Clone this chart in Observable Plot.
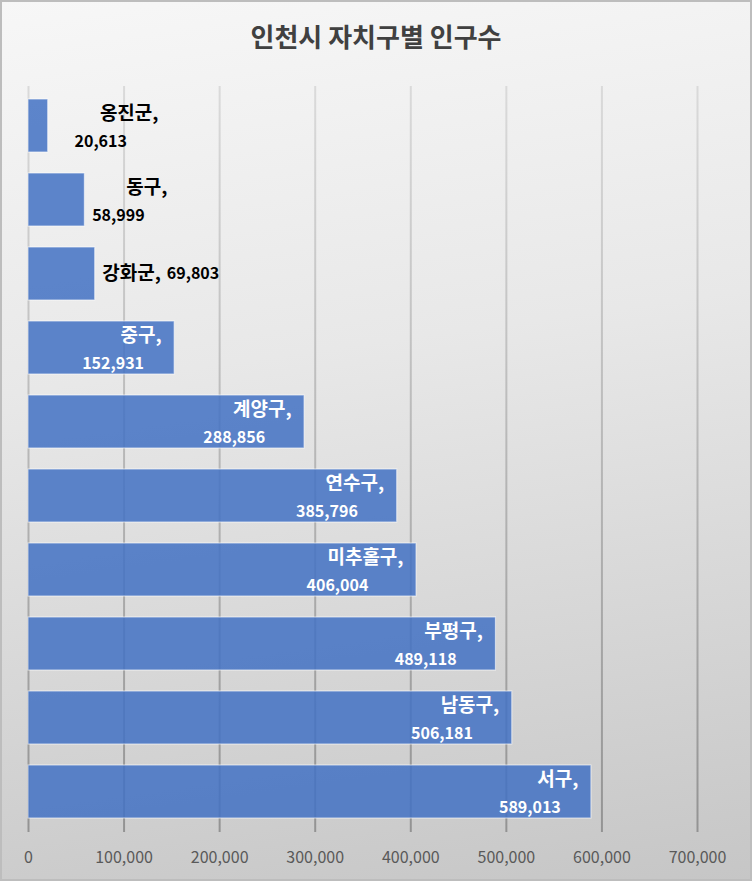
<!DOCTYPE html>
<html>
<head>
<meta charset="utf-8">
<script src="https://cdn.jsdelivr.net/npm/d3@7"></script>
<script src="https://cdn.jsdelivr.net/npm/@observablehq/plot@0.6"></script>
<style>
  html, body { margin: 0; padding: 0; background: #fff; }
  #chart {
    position: relative; width: 752px; height: 881px; overflow: hidden;
    background: linear-gradient(172deg, #f7f7f7 0%, #e8e8e8 40%, #c6c6c6 100%);
    box-shadow: inset 0 0 0 2px #bdbdbd;
    font-family: "Noto Sans CJK KR", "Noto Sans", sans-serif;
  }
  #title {
    position: absolute; left: 0; top: 18px; width: 752px; height: 36px; line-height: 36px;
    text-align: center; font-size: 26px; font-weight: bold; color: #404040;
  }
  #plot { position: absolute; left: 0; top: 60px; }
</style>
</head>
<body>
<div id="chart">
  <div id="title">인천시 자치구별 인구수</div>
  <div id="plot"></div>
</div>
<script>
// ---- data ----
const categories = ["옹진군", "동구", "강화군", "중구", "계양구", "연수구", "미추홀구", "부평구", "남동구", "서구"];
const populations = [20613, 58999, 69803, 152931, 288856, 385796, 406004, 489118, 506181, 589013];
const xTicks = [0, 100000, 200000, 300000, 400000, 500000, 600000, 700000];

const data = categories.map((name, i) => ({name, value: populations[i]}));

// ---- layout ----
const W = 752, H = 821;
const mTop = 26, mBottom = 49, mLeft = 28, mRight = 55;
const fontFamily = '"Noto Sans CJK KR", "Noto Sans", sans-serif';
const nameSize = 19, valueSize = 16;
const nameFont = `bold ${nameSize}px ${fontFamily}`;
const valueFont = `bold ${valueSize}px ${fontFamily}`;
const ctx = document.createElement("canvas").getContext("2d");
const textW = (s, f) => { ctx.font = f; return ctx.measureText(s).width; };
const fmt = d3.format(",");

// label placement styles for bars too short to hold their label
const outsideLabels = {"옹진군": {nameDx: 81, valueDx: 52.5}, "동구": {nameDx: 62, valueDx: 33.5}};
const inlineLabels = new Set(["강화군"]);

const labelMarks = data.flatMap(d => {
  const nameText = d.name + ",";
  const wN = textW(nameText, nameFont);
  const common = {x: "value", y: "name", fontWeight: "bold"};
  if (inlineLabels.has(d.name)) {
    return [
      Plot.text([d], {...common, text: r => r.name + ",", textAnchor: "start", dx: 7, fontSize: nameSize, fill: "#000"}),
      Plot.text([d], {...common, text: r => fmt(r.value), textAnchor: "start", dx: 7 + wN + 6, fontSize: valueSize, fill: "#000"})
    ];
  }
  let nameDx, valueDx, color;
  if (outsideLabels[d.name]) {
    nameDx = outsideLabels[d.name].nameDx; valueDx = outsideLabels[d.name].valueDx; color = "#000";
  } else {
    nameDx = -13 - wN / 2; valueDx = nameDx - 28; color = "#fff";
  }
  return [
    Plot.text([d], {...common, text: r => r.name + ",", textAnchor: "middle", dx: nameDx, dy: -12, fontSize: nameSize, fill: color}),
    Plot.text([d], {...common, text: r => fmt(r.value), textAnchor: "middle", dx: valueDx, dy: 16, fontSize: valueSize, fill: color})
  ];
});

const defs = () => {
  const g = d3.create("svg:defs");
  const lg = g.append("linearGradient").attr("id", "gridGrad")
    .attr("gradientUnits", "userSpaceOnUse")
    .attr("x1", 0).attr("x2", 0).attr("y1", mTop).attr("y2", H - mBottom);
  lg.append("stop").attr("offset", 0).attr("stop-color", "#dadada");
  lg.append("stop").attr("offset", 1).attr("stop-color", "#939393");
  return g.node();
};

const chart = Plot.plot({
  width: W, height: H,
  marginTop: mTop, marginBottom: mBottom, marginLeft: mLeft, marginRight: mRight,
  style: {background: "transparent", fontFamily, overflow: "visible"},
  x: {domain: [0, 700000]},
  y: {domain: categories, paddingInner: 0.283, paddingOuter: 0.1415, axis: null},
  marks: [
    defs,
    Plot.gridX(xTicks, {stroke: "url(#gridGrad)", strokeOpacity: 1, strokeWidth: 2}),
    Plot.axisX({ticks: xTicks, tickFormat: fmt, tickSize: 0, tickPadding: 19, fontSize: 16, fill: "#595959", label: null}),
    Plot.barX(data, {x: "value", y: "name", fill: "#4472c4", fillOpacity: 0.86, stroke: "#ffffff", strokeOpacity: 0.55, strokeWidth: 1.2}),
    ...labelMarks
  ]
});
document.getElementById("plot").appendChild(chart);
</script>
</body>
</html>
